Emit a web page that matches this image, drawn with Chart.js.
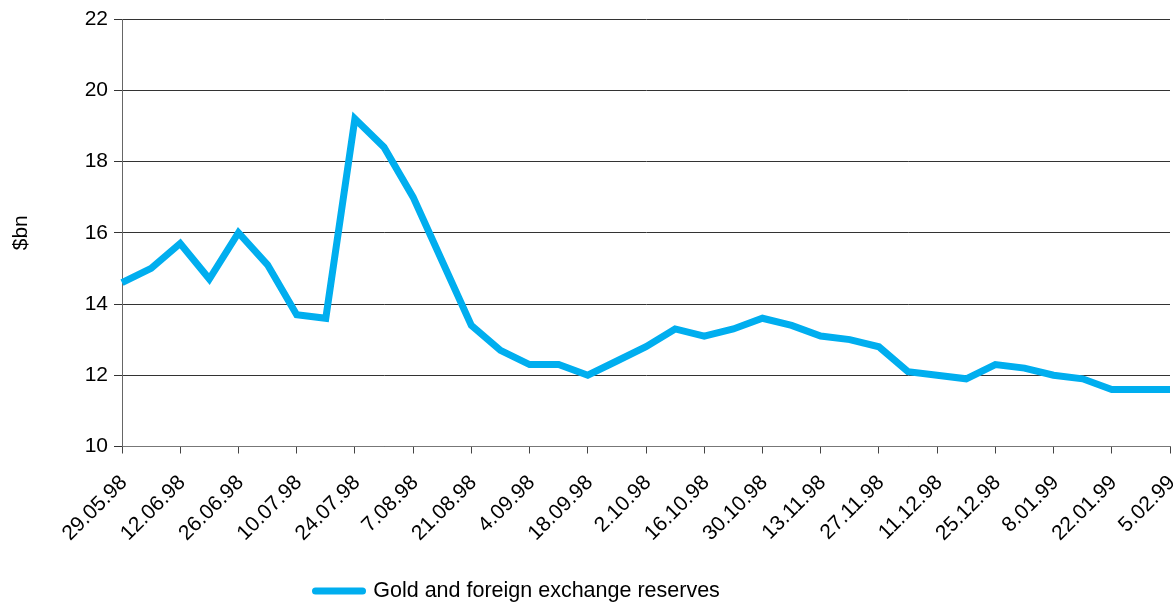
<!DOCTYPE html>
<html>
<head>
<meta charset="utf-8">
<script src="https://cdn.jsdelivr.net/npm/chart.js@4.4.1/dist/chart.umd.min.js"></script>
<style>
  html, body { margin: 0; padding: 0; background: #ffffff; }
  #wrap { width: 1173px; height: 603px; position: relative; }
</style>
</head>
<body>
<div id="wrap"><canvas id="c" width="1173" height="603"></canvas></div>
<script>
// Weekly dates (dd.mm.yy)
const categories = [
  '29.05.98','5.06.98','12.06.98','19.06.98','26.06.98','3.07.98','10.07.98','17.07.98',
  '24.07.98','31.07.98','7.08.98','14.08.98','21.08.98','28.08.98','4.09.98','11.09.98',
  '18.09.98','25.09.98','2.10.98','9.10.98','16.10.98','23.10.98','30.10.98','6.11.98',
  '13.11.98','20.11.98','27.11.98','4.12.98','11.12.98','18.12.98','25.12.98','1.01.99',
  '8.01.99','15.01.99','22.01.99','29.01.99','5.02.99'
];
// Labels shown on the x axis
const xTickLabels = [
  '29.05.98','12.06.98','26.06.98','10.07.98','24.07.98','7.08.98','21.08.98','4.09.98',
  '18.09.98','2.10.98','16.10.98','30.10.98','13.11.98','27.11.98','11.12.98','25.12.98',
  '8.01.99','22.01.99','5.02.99'
];
// Gold and foreign exchange reserves, $bn
const reserves = [
  14.6, 15.0, 15.7, 14.7, 16.0, 15.1, 13.7, 13.6,
  19.2, 18.4, 17.0, 15.2, 13.4, 12.7, 12.3, 12.3,
  12.0, 12.4, 12.8, 13.3, 13.1, 13.3, 13.6, 13.4,
  13.1, 13.0, 12.8, 12.1, 12.0, 11.9, 12.3, 12.2,
  12.0, 11.9, 11.6, 11.6, 11.6
];
const yTicks = [10, 12, 14, 16, 18, 20, 22];
const seriesName = 'Gold and foreign exchange reserves';
const yTitle = '$bn';

const lineColor = '#00AEEF';
const fontFamily = '"Liberation Sans", Arial, Helvetica, sans-serif';

const legendPlacer = {
  id: 'legendPlacer',
  afterLayout(chart) {
    const lg = chart.legend;
    if (!lg) return;
    const dx = 305.5 - lg.left;
    lg.left += dx; lg.right += dx;
    const dy = 570.25 - lg.top;
    lg.top += dy; lg.bottom += dy;
  }
};

const ctx = document.getElementById('c').getContext('2d');
new Chart(ctx, {
  type: 'line',
  data: {
    labels: categories,
    datasets: [{
      label: seriesName,
      data: reserves,
      borderColor: lineColor,
      backgroundColor: lineColor,
      borderWidth: 7,
      pointRadius: 0,
      pointHoverRadius: 0,
      fill: false,
      tension: 0,
      borderJoinStyle: 'miter'
    }]
  },
  options: {
    responsive: false,
    animation: false,
    devicePixelRatio: 1,
    layout: { padding: { top: 19, right: 3, bottom: 0, left: 0 } },
    scales: {
      x: {
        type: 'category',
        offset: false,
        grid: {
          display: true,
          drawOnChartArea: false,
          drawTicks: true,
          tickLength: 7,
          color: '#444',
          lineWidth: 1
        },
        border: { display: true, color: '#777', width: 1 },
        ticks: {
          autoSkip: false,
          minRotation: 45,
          maxRotation: 45,
          padding: 17,
          labelOffset: 2,
          color: '#000',
          font: { family: fontFamily, size: 21 },
          callback: function(value, index) {
            const lab = categories[index];
            return xTickLabels.includes(lab) ? lab : null;
          }
        },
        afterFit(scale) {
          scale.height = 115;
          scale.paddingRight = 0;
          scale.paddingLeft = 0;
        }
      },
      y: {
        min: yTicks[0],
        max: yTicks[yTicks.length - 1],
        afterBuildTicks(scale) { scale.ticks = yTicks.map(v => ({ value: v })); },
        grid: {
          color: '#333',
          lineWidth: 1,
          drawTicks: true,
          tickLength: 8
        },
        border: { display: true, color: '#666', width: 1 },
        ticks: {
          padding: 6,
          color: '#000',
          font: { family: fontFamily, size: 21 }
        },
        title: {
          display: true,
          text: yTitle,
          color: '#000',
          font: { family: fontFamily, size: 21 },
          padding: { top: 9, bottom: 0 }
        },
        afterFit(scale) { scale.width = 122; }
      }
    },
    plugins: {
      legend: {
        display: true,
        position: 'bottom',
        align: 'start',
        labels: {
          usePointStyle: true,
          pointStyle: 'line',
          pointStyleWidth: 47,
          color: '#000',
          padding: 10,
          font: { family: fontFamily, size: 21.5 },
          generateLabels(chart) {
            const items = Chart.defaults.plugins.legend.labels.generateLabels(chart);
            items.forEach(it => {
              it.lineCap = 'round';
              it.lineWidth = 7;
              it.pointStyle = 'line';
              it.strokeStyle = lineColor;
              it.fillStyle = lineColor;
            });
            return items;
          }
        }
      },
      tooltip: { enabled: false }
    }
  },
  plugins: [legendPlacer]
});
</script>
</body>
</html>
